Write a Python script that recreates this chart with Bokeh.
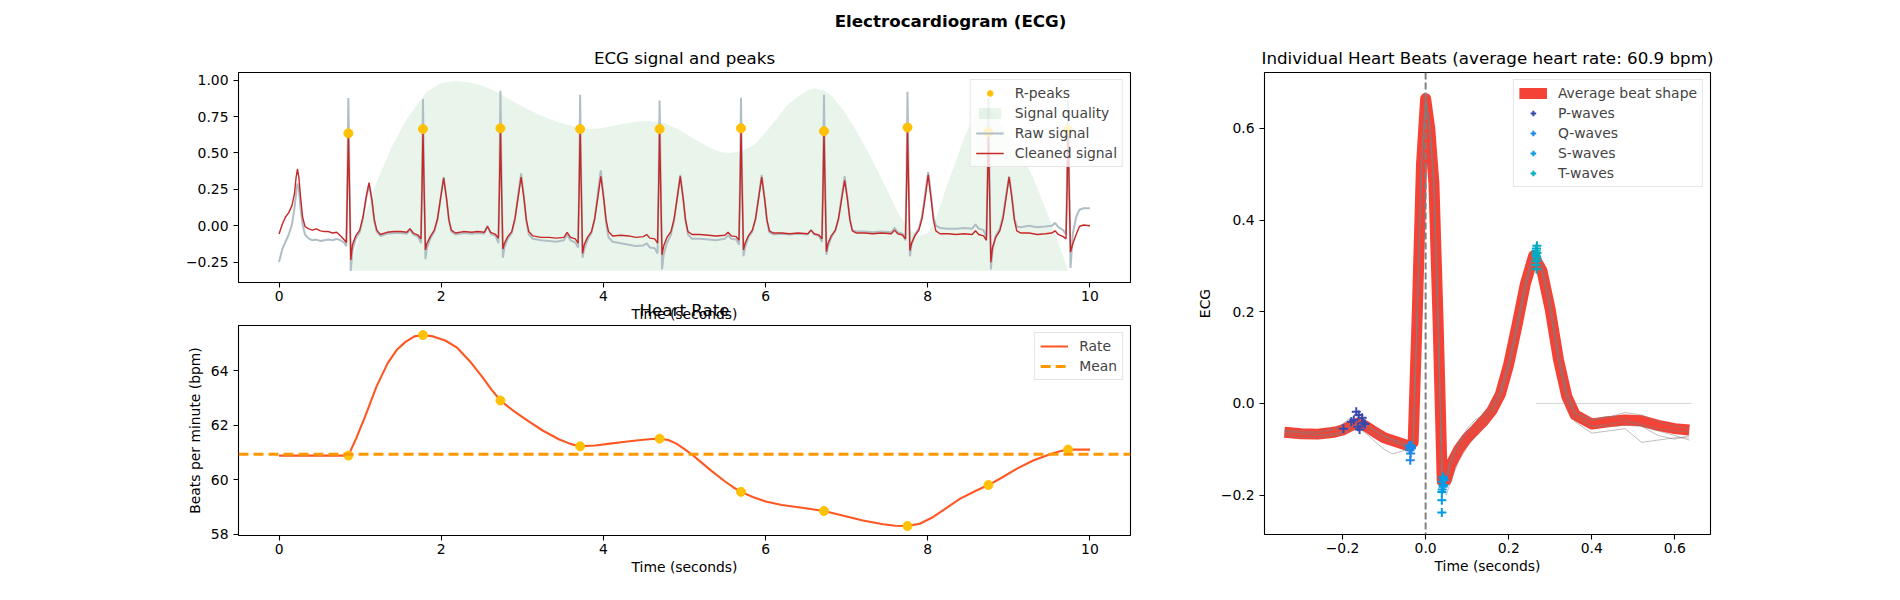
from bokeh.plotting import figure
from bokeh.layouts import row, column
from bokeh.models import (ColumnDataSource, Legend, LegendItem, Span, LinearAxis,
                          Range1d, FixedTicker, CustomJSTickFormatter)
from bokeh.embed import file_html
from bokeh.resources import INLINE

FONT = "DejaVu Sans"

# ---- ECG signal (10 s) ----
ecg_time = [
    0.00, 0.04, 0.08, 0.12, 0.16, 0.19, 0.21, 0.227, 0.245, 0.265, 0.29, 0.32, 0.36, 0.41, 0.46, 0.51, 0.56, 0.61, 0.66, 0.71, 0.76, 0.80,
    0.83, 0.843, 0.855, 0.867, 0.885, 0.905, 0.945, 0.995, 1.035, 1.075, 1.11, 1.145, 1.175, 1.205, 1.25, 1.33, 1.42, 1.50,
    1.575, 1.615, 1.655, 1.715, 1.75, 1.763, 1.775, 1.787, 1.805, 1.825, 1.865, 1.915, 1.955, 1.995, 2.03, 2.065, 2.095, 2.125, 2.175, 2.275, 2.375, 2.45,
    2.53, 2.57, 2.61, 2.67, 2.705, 2.718, 2.73, 2.742, 2.76, 2.78, 2.82, 2.87, 2.91, 2.95, 2.985, 3.02, 3.05, 3.08, 3.13, 3.23, 3.33, 3.42,
    3.513, 3.553, 3.593, 3.653, 3.688, 3.701, 3.713, 3.725, 3.743, 3.763, 3.803, 3.853, 3.893, 3.933, 3.968, 4.003, 4.033, 4.063, 4.113, 4.213, 4.313, 4.40,
    4.493, 4.533, 4.573, 4.633, 4.668, 4.681, 4.693, 4.705, 4.723, 4.743, 4.783, 4.833, 4.873, 4.913, 4.948, 4.983, 5.013, 5.043, 5.093, 5.193, 5.293, 5.39,
    5.497, 5.537, 5.577, 5.637, 5.672, 5.685, 5.697, 5.709, 5.727, 5.747, 5.787, 5.837, 5.877, 5.917, 5.952, 5.987, 6.017, 6.047, 6.097, 6.197, 6.297, 6.40,
    6.52, 6.56, 6.60, 6.66, 6.695, 6.708, 6.72, 6.732, 6.75, 6.77, 6.81, 6.86, 6.90, 6.94, 6.975, 7.01, 7.04, 7.07, 7.12, 7.22, 7.32, 7.43,
    7.55, 7.59, 7.63, 7.69, 7.725, 7.738, 7.75, 7.762, 7.78, 7.80, 7.84, 7.89, 7.93, 7.97, 8.005, 8.04, 8.07, 8.10, 8.15, 8.25, 8.35, 8.45,
    8.548, 8.588, 8.628, 8.688, 8.723, 8.736, 8.748, 8.76, 8.778, 8.798, 8.838, 8.888, 8.928, 8.968, 9.003, 9.038, 9.068, 9.098, 9.148, 9.25, 9.35, 9.45,
    9.53, 9.57, 9.61, 9.67, 9.705, 9.718, 9.73, 9.742, 9.76, 9.79, 9.83, 9.87, 9.92, 10.0,
]
ecg_clean = [
    -0.057, 0.01, 0.06, 0.09, 0.14, 0.22, 0.33, 0.39, 0.33, 0.20, 0.06, -0.005, -0.02, -0.03, -0.022, -0.035, -0.04, -0.04, -0.05, -0.045, -0.07, -0.095,
    -0.115, 0.25, 0.635, 0.30, -0.235, -0.13, -0.07, -0.03, 0.06, 0.20, 0.296, 0.18, 0.04, -0.03, -0.06, -0.045, -0.04, -0.04,
    -0.045, -0.02, -0.05, -0.065, -0.09, 0.25, 0.665, 0.30, -0.166, -0.12, -0.075, -0.03, 0.05, 0.20, 0.328, 0.19, 0.04, -0.03, -0.05, -0.04, -0.045, -0.04,
    -0.045, -0.005, -0.045, -0.06, -0.085, 0.25, 0.67, 0.30, -0.16, -0.12, -0.075, -0.04, 0.05, 0.20, 0.335, 0.19, 0.04, -0.04, -0.07, -0.08, -0.08, -0.085,
    -0.08, -0.045, -0.08, -0.09, -0.12, 0.25, 0.665, 0.30, -0.19, -0.13, -0.08, -0.04, 0.05, 0.20, 0.34, 0.19, 0.04, -0.04, -0.07, -0.065, -0.07, -0.08,
    -0.075, -0.06, -0.085, -0.09, -0.12, 0.25, 0.665, 0.30, -0.20, -0.14, -0.08, -0.04, 0.05, 0.20, 0.34, 0.19, 0.04, -0.04, -0.06, -0.06, -0.065, -0.07,
    -0.065, -0.045, -0.07, -0.075, -0.10, 0.25, 0.67, 0.30, -0.166, -0.12, -0.07, -0.03, 0.05, 0.20, 0.335, 0.19, 0.04, -0.035, -0.05, -0.05, -0.055, -0.05,
    -0.055, -0.03, -0.055, -0.065, -0.09, 0.25, 0.65, 0.30, -0.178, -0.12, -0.07, -0.03, 0.05, 0.19, 0.312, 0.18, 0.04, -0.035, -0.05, -0.05, -0.055, -0.05,
    -0.055, -0.03, -0.055, -0.065, -0.09, 0.25, 0.675, 0.30, -0.17, -0.12, -0.07, -0.03, 0.05, 0.20, 0.35, 0.19, 0.04, -0.035, -0.055, -0.055, -0.06, -0.055,
    -0.06, -0.035, -0.06, -0.07, -0.10, 0.25, 0.645, 0.30, -0.25, -0.15, -0.08, -0.035, 0.05, 0.20, 0.335, 0.19, 0.04, -0.035, -0.05, -0.05, -0.06, -0.055,
    -0.05, -0.035, -0.06, -0.075, -0.09, 0.25, 0.66, 0.30, -0.18, -0.12, -0.06, -0.005, 0.005, 0.0,
]
ecg_raw = [
    -0.25, -0.16, -0.11, -0.06, 0.01, 0.12, 0.22, 0.29, 0.25, 0.12, 0.01, -0.06, -0.085, -0.10, -0.095, -0.105, -0.10, -0.095, -0.10, -0.09, -0.10, -0.115,
    -0.14, 0.35, 0.877, 0.40, -0.31, -0.17, -0.09, -0.045, 0.05, 0.19, 0.28, 0.17, 0.03, -0.04, -0.07, -0.055, -0.05, -0.05,
    -0.055, -0.03, -0.06, -0.075, -0.12, 0.33, 0.87, 0.40, -0.23, -0.15, -0.09, -0.04, 0.045, 0.20, 0.335, 0.19, 0.035, -0.04, -0.06, -0.05, -0.055, -0.05,
    -0.055, 0.0, -0.055, -0.07, -0.12, 0.35, 0.927, 0.42, -0.22, -0.15, -0.09, -0.05, 0.05, 0.22, 0.36, 0.20, 0.03, -0.06, -0.09, -0.10, -0.105, -0.11,
    -0.10, -0.06, -0.10, -0.115, -0.15, 0.33, 0.90, 0.40, -0.22, -0.16, -0.10, -0.05, 0.05, 0.23, 0.38, 0.20, 0.02, -0.08, -0.11, -0.12, -0.13, -0.14,
    -0.135, -0.12, -0.15, -0.155, -0.19, 0.30, 0.86, 0.38, -0.30, -0.20, -0.12, -0.06, 0.04, 0.21, 0.35, 0.19, 0.03, -0.06, -0.09, -0.09, -0.095, -0.10,
    -0.09, -0.065, -0.09, -0.095, -0.13, 0.33, 0.88, 0.40, -0.21, -0.15, -0.08, -0.04, 0.05, 0.21, 0.35, 0.19, 0.03, -0.045, -0.06, -0.055, -0.06, -0.055,
    -0.06, -0.03, -0.06, -0.07, -0.11, 0.33, 0.90, 0.40, -0.20, -0.14, -0.08, -0.035, 0.05, 0.21, 0.34, 0.19, 0.04, -0.03, -0.04, -0.04, -0.045, -0.04,
    -0.045, -0.015, -0.045, -0.055, -0.10, 0.33, 0.92, 0.42, -0.21, -0.13, -0.06, -0.02, 0.07, 0.23, 0.37, 0.21, 0.06, 0.0, -0.015, -0.02, -0.02, -0.015,
    -0.02, 0.01, -0.02, -0.03, -0.08, 0.33, 0.88, 0.40, -0.30, -0.17, -0.07, -0.02, 0.07, 0.22, 0.34, 0.20, 0.05, -0.005, -0.01, 0.0, -0.01, -0.005,
    0.0, 0.02, -0.01, -0.03, -0.06, 0.33, 0.86, 0.40, -0.29, -0.05, 0.06, 0.11, 0.12, 0.12,
]

# R-peaks
rpeak_time = [0.855, 1.775, 2.73, 3.713, 4.693, 5.697, 6.72, 7.75, 8.748, 9.73]
rpeak_value = [0.635, 0.665, 0.67, 0.665, 0.665, 0.67, 0.65, 0.675, 0.645, 0.66]

# signal quality band
quality_floor = -0.31
quality_time = [0.855, 0.95, 1.05, 1.19, 1.38, 1.57, 1.82, 2.0, 2.17, 2.35, 2.52, 2.68, 2.84, 3.03, 3.22, 3.45, 3.66,
                3.85, 3.97, 4.2, 4.4, 4.54, 4.73, 4.9, 5.11, 5.3, 5.45, 5.56, 5.7, 5.87, 6.0, 6.13, 6.25, 6.38, 6.5,
                6.6, 6.72, 6.82, 6.95, 7.08, 7.25, 7.39, 7.52, 7.65, 7.78, 7.9, 8.0, 8.1, 8.22, 8.35, 8.46, 8.58,
                8.7, 8.8, 8.95, 9.09, 9.3, 9.5, 9.62, 9.73]
quality_level = [-0.31, -0.15, 0.05, 0.28, 0.53, 0.73, 0.92, 0.98, 0.995, 0.985, 0.96, 0.92, 0.87, 0.81, 0.76, 0.71, 0.68,
                 0.665, 0.67, 0.695, 0.715, 0.72, 0.71, 0.67, 0.60, 0.54, 0.505, 0.50, 0.51, 0.56, 0.64, 0.73, 0.82, 0.88, 0.925,
                 0.945, 0.93, 0.89, 0.80, 0.69, 0.52, 0.37, 0.22, 0.07, -0.03, -0.07, -0.05, 0.05, 0.25, 0.45, 0.62, 0.75,
                 0.81, 0.78, 0.66, 0.56, 0.33, 0.05, -0.13, -0.31]

# ---- heart rate ----
rate_at_peaks = [60.88, 65.3, 62.9, 61.22, 61.5, 59.55, 58.85, 58.3, 59.8, 61.1]
rate_time = [0.0, 0.855, 0.95, 1.06, 1.2, 1.34, 1.45, 1.56, 1.67, 1.775, 1.9, 2.05, 2.19, 2.35, 2.51, 2.62, 2.73,
             2.9, 3.07, 3.25, 3.45, 3.6, 3.713, 3.9, 4.08, 4.27, 4.46, 4.6, 4.693, 4.8, 4.9, 5.0, 5.09, 5.2, 5.34,
             5.5, 5.6, 5.697, 5.85, 6.0, 6.2, 6.45, 6.72, 6.95, 7.2, 7.45, 7.6, 7.75, 7.9, 8.05, 8.2, 8.4, 8.6,
             8.748, 8.9, 9.1, 9.3, 9.5, 9.63, 9.73, 10.0]
rate_curve = [60.88, 60.88, 61.5, 62.3, 63.4, 64.27, 64.75, 65.05, 65.25, 65.3, 65.25, 65.1, 64.85, 64.35, 63.75, 63.3, 62.9,
              62.5, 62.15, 61.8, 61.48, 61.3, 61.22, 61.25, 61.32, 61.39, 61.45, 61.49, 61.5, 61.45, 61.32, 61.12, 60.92, 60.65, 60.3,
              59.93, 59.72, 59.55, 59.35, 59.2, 59.07, 58.97, 58.85, 58.68, 58.5, 58.36, 58.31, 58.3, 58.38, 58.6, 58.9, 59.3, 59.6,
              59.8, 60.05, 60.4, 60.7, 60.92, 61.04, 61.1, 61.1]
mean_rate = 60.93

# ---- individual heart beats ----
beat_time = [-0.34, -0.30, -0.26, -0.22, -0.20, -0.18, -0.16, -0.14, -0.12, -0.10, -0.08, -0.06, -0.04, -0.03, -0.02,
             -0.01, 0.0, 0.01, 0.02, 0.03, 0.04, 0.05, 0.06, 0.08, 0.10, 0.12, 0.14, 0.16, 0.18, 0.20, 0.22, 0.24,
             0.26, 0.28, 0.30, 0.32, 0.34, 0.36, 0.40, 0.44, 0.48, 0.52, 0.56, 0.60, 0.635]
beat_average = [-0.063, -0.066, -0.067, -0.063, -0.058, -0.049, -0.042, -0.052, -0.064, -0.075, -0.081, -0.087, -0.093, -0.085, 0.20,
                0.52, 0.665, 0.60, 0.48, 0.18, -0.17, -0.168, -0.135, -0.100, -0.075, -0.057, -0.038, -0.015, 0.02, 0.085, 0.17, 0.26,
                0.322, 0.29, 0.205, 0.095, 0.015, -0.025, -0.045, -0.04, -0.036, -0.038, -0.048, -0.055, -0.058]
beat_1 = [-0.058, -0.06, -0.062, -0.058, -0.052, -0.04, -0.03, -0.045, -0.058, -0.07, -0.078, -0.083, -0.09, -0.082, 0.21,
          0.53, 0.668, 0.61, 0.49, 0.19, -0.16, -0.16, -0.125, -0.09, -0.062, -0.04, -0.02, 0.0, 0.03, 0.095, 0.18, 0.27,
          0.33, 0.295, 0.21, 0.10, 0.02, -0.02, -0.038, -0.03, -0.02, -0.025, -0.04, -0.05, -0.055]
beat_2 = [-0.07, -0.074, -0.075, -0.07, -0.066, -0.058, -0.055, -0.068, -0.085, -0.10, -0.11, -0.105, -0.1, -0.092, 0.19,
          0.51, 0.66, 0.59, 0.47, 0.17, -0.19, -0.2, -0.17, -0.125, -0.095, -0.072, -0.05, -0.025, 0.01, 0.07, 0.155, 0.245,
          0.31, 0.285, 0.2, 0.09, 0.005, -0.04, -0.065, -0.06, -0.055, -0.085, -0.08, -0.075, -0.075]
beat_3 = [-0.062, -0.064, -0.068, -0.066, -0.06, -0.05, -0.045, -0.05, -0.062, -0.072, -0.08, -0.09, -0.095, -0.088, 0.2,
          0.52, 0.665, 0.6, 0.48, 0.18, -0.175, -0.17, -0.14, -0.105, -0.078, -0.06, -0.04, -0.018, 0.018, 0.083, 0.168, 0.258,
          0.325, 0.292, 0.205, 0.092, 0.012, -0.03, -0.05, -0.045, -0.04, -0.045, -0.055, -0.06, -0.062]
beat_4 = [-0.06, -0.063, -0.064, -0.055, -0.045, -0.03, -0.04, -0.058, -0.07, -0.08, -0.085, -0.09, -0.094, -0.086, 0.2,
          0.51, 0.662, 0.6, 0.47, 0.18, -0.17, -0.168, -0.13, -0.085, -0.055, -0.035, -0.025, -0.01, 0.025, 0.088, 0.172, 0.262,
          0.324, 0.292, 0.21, 0.1, 0.02, -0.02, -0.035, -0.028, -0.035, -0.05, -0.07, -0.078, -0.07]
beat_5 = [-0.066, -0.068, -0.07, -0.068, -0.062, -0.052, -0.046, -0.05, -0.06, -0.072, -0.079, -0.086, -0.092, -0.084, 0.21,
          0.53, 0.67, 0.61, 0.49, 0.19, -0.165, -0.16, -0.12, -0.085, -0.065, -0.05, -0.032, -0.008, 0.025, 0.08, 0.16, 0.25,
          0.33, 0.31, 0.23, 0.12, 0.03, -0.02, -0.05, -0.05, -0.048, -0.05, -0.06, -0.07, -0.08]
flat_beat_time = [0.266, 0.64]
flat_beat_value = [0.0, 0.0]

p_wave_time = [-0.198, -0.167, -0.173, -0.161, -0.153, -0.146, -0.159, -0.163, -0.151, -0.179]
p_wave_value = [-0.055, -0.018, -0.036, -0.025, -0.031, -0.045, -0.057, -0.051, -0.042, -0.040]
q_wave_time = [-0.037, -0.034, -0.038, -0.036, -0.037, -0.040, -0.034, -0.038, -0.035, -0.038]
q_wave_value = [-0.093, -0.098, -0.102, -0.109, -0.124, -0.092, -0.095, -0.096, -0.092, -0.100]
s_wave_time = [0.042, 0.039, 0.043, 0.039, 0.039, 0.039, 0.045, 0.042, 0.040, 0.043]
s_wave_value = [-0.160, -0.171, -0.178, -0.193, -0.211, -0.238, -0.167, -0.182, -0.188, -0.164]
t_wave_time = [0.268, 0.267, 0.266, 0.268, 0.265, 0.267, 0.268, 0.267, 0.266, 0.267]
t_wave_value = [0.344, 0.338, 0.333, 0.328, 0.325, 0.321, 0.316, 0.311, 0.302, 0.293]

# axis ranges and ticks
time_range = (-0.5, 10.5)
time_ticks = [0, 2, 4, 6, 8, 10]
time_labels = ["0", "2", "4", "6", "8", "10"]
ecg_ticks = [-0.25, 0.0, 0.25, 0.5, 0.75, 1.0]
ecg_labels = ["\u22120.25", "0.00", "0.25", "0.50", "0.75", "1.00"]
rate_ticks = [58, 60, 62, 64]
rate_labels = ["58", "60", "62", "64"]
beat_x_ticks = [-0.2, 0.0, 0.2, 0.4, 0.6]
beat_x_labels = ["\u22120.2", "0.0", "0.2", "0.4", "0.6"]
beat_y_ticks = [-0.2, 0.0, 0.2, 0.4, 0.6]
beat_y_labels = ["\u22120.2", "0.0", "0.2", "0.4", "0.6"]


def fmt(ticks, labels):
    return CustomJSTickFormatter(args=dict(tick_values=ticks, tick_labels=labels),
                                 code="const i = tick_values.indexOf(tick); return i < 0 ? '' : tick_labels[i];")


def style(p, xt, xl, yt, yl):
    p.outline_line_color = "black"
    p.outline_line_width = 1.1
    p.grid.visible = False
    p.xaxis.ticker = FixedTicker(ticks=xt)
    p.xaxis.formatter = fmt(xt, xl)
    p.yaxis.ticker = FixedTicker(ticks=yt)
    p.yaxis.formatter = fmt(yt, yl)
    for ax in p.axis:
        ax.axis_line_color = None
        ax.major_tick_line_color = "black"
        ax.major_tick_line_width = 1.1
        ax.major_tick_out = 5
        ax.major_tick_in = 0
        ax.minor_tick_line_color = None
        ax.major_label_text_font = FONT
        ax.major_label_text_font_size = "13.9px"
        ax.major_label_text_color = "black"
        ax.axis_label_text_font = FONT
        ax.axis_label_text_font_size = "13.9px"
        ax.axis_label_text_font_style = "normal"
        ax.axis_label_text_color = "black"
    p.xaxis.major_label_standoff = 3
    p.yaxis.major_label_standoff = 5


def set_title(p, text):
    p.title.text = text
    p.title.align = "center"
    p.title.text_font = FONT
    p.title.text_font_size = "16.7px"
    p.title.text_font_style = "normal"
    p.title.text_color = "black"
    p.title.standoff = 9


def make_legend(items):
    leg = Legend(items=items, location="top_right")
    leg.label_text_font = FONT
    leg.label_text_font_size = "13.9px"
    leg.border_line_color = "#cccccc"
    leg.border_line_width = 1
    leg.background_fill_alpha = 0.8
    leg.margin = 7
    leg.padding = 5
    leg.spacing = 4
    leg.glyph_height = 14
    leg.glyph_width = 28
    leg.label_height = 14
    leg.label_standoff = 11
    return leg


# ---- figure title ----
head = figure(width=1880, height=38, min_border_left=20, min_border_right=0, min_border_top=30,
              min_border_bottom=0, x_axis_location=None, y_axis_location=None,
              output_backend="svg", toolbar_location=None)
head.outline_line_color = None
head.grid.visible = False
head.title.text = "Electrocardiogram (ECG)"
head.title.align = "center"
head.title.text_font = FONT
head.title.text_font_size = "16.7px"
head.title.text_font_style = "bold"
head.title.text_color = "black"
head.title.standoff = 0

# ---- top-left: ECG signal and peaks ----
p1 = figure(frame_width=892, frame_height=210, min_border_left=238, min_border_right=40,
            min_border_top=34, min_border_bottom=41,
            x_range=Range1d(*time_range), y_range=Range1d(-0.39, 1.053),
            output_backend="svg", toolbar_location=None)
style(p1, time_ticks, time_labels, ecg_ticks, ecg_labels)
set_title(p1, "ECG signal and peaks")
p1.xaxis.axis_label = "Time (seconds)"
p1.xaxis.axis_label_standoff = 2

# the next panel's title sits over this x label, as in the original layout
hr_title = LinearAxis(ticker=FixedTicker(ticks=[]), axis_label="Heart Rate",
                      axis_label_standoff=-25, axis_line_color=None,
                      major_tick_out=0, major_tick_in=0, major_label_standoff=0,
                      axis_label_text_font=FONT, axis_label_text_font_size="16.7px",
                      axis_label_text_font_style="normal", axis_label_text_color="black")
p1.add_layout(hr_title, "below")

sig = ColumnDataSource(data=dict(t=ecg_time, clean=ecg_clean, raw=ecg_raw))
r_quality = p1.varea(x=quality_time, y1=quality_floor, y2=quality_level, fill_color="#4CAF50", fill_alpha=0.12)
r_raw = p1.line("t", "raw", source=sig, line_color="#B0BEC5", line_width=2.0)
r_clean = p1.line("t", "clean", source=sig, line_color="#C62828", line_width=1.4)
r_peaks = p1.scatter(rpeak_time, rpeak_value, size=9, fill_color="#FFC107", line_color="#FFC107")
p1.add_layout(make_legend([
    LegendItem(label="R-peaks", renderers=[r_peaks]),
    LegendItem(label="Signal quality", renderers=[r_quality]),
    LegendItem(label="Raw signal", renderers=[r_raw]),
    LegendItem(label="Cleaned signal", renderers=[r_clean]),
]))

# ---- bottom-left: heart rate ----
p2 = figure(frame_width=892, frame_height=210, min_border_left=238, min_border_right=40,
            min_border_top=1, min_border_bottom=50,
            x_range=Range1d(*time_range), y_range=Range1d(57.95, 65.65),
            output_backend="svg", toolbar_location=None)
style(p2, time_ticks, time_labels, rate_ticks, rate_labels)
p2.xaxis.axis_label = "Time (seconds)"
p2.yaxis.axis_label = "Beats per minute (bpm)"
p2.xaxis.axis_label_standoff = 2
p2.yaxis.axis_label_standoff = 5

r_rate = p2.line(rate_time, rate_curve, line_color="#FF5722", line_width=2.1)
p2.scatter(rpeak_time, rate_at_peaks, size=9, fill_color="#FFC107", line_color="#FFC107")
r_mean = p2.line(list(time_range), [mean_rate, mean_rate], line_color="#FF9800", line_width=2.8,
                 line_dash="10 5")
p2.add_layout(make_legend([
    LegendItem(label="Rate", renderers=[r_rate]),
    LegendItem(label="Mean", renderers=[r_mean]),
]))

# ---- right: individual heart beats ----
p3 = figure(frame_width=446, frame_height=462, min_border_left=94, min_border_right=180,
            min_border_top=34, min_border_bottom=50,
            x_range=Range1d(-0.388, 0.686), y_range=Range1d(-0.286, 0.722),
            output_backend="svg", toolbar_location=None)
style(p3, beat_x_ticks, beat_x_labels, beat_y_ticks, beat_y_labels)
set_title(p3, "Individual Heart Beats (average heart rate: %.1f bpm)" % mean_rate)
p3.xaxis.axis_label = "Time (seconds)"
p3.yaxis.axis_label = "ECG"
p3.xaxis.axis_label_standoff = 2
p3.yaxis.axis_label_standoff = 5

r_avg = p3.line(beat_time, beat_average, line_color="#F44336", line_width=11, line_join="round")
p3.multi_line(xs=[beat_time] * 5, ys=[beat_1, beat_2, beat_3, beat_4, beat_5],
              line_color="grey", line_alpha=0.5, line_width=1)
p3.line(flat_beat_time, flat_beat_value, line_color="grey", line_alpha=0.35, line_width=1)
p3.add_layout(Span(location=0, dimension="height", line_color="grey", line_width=2, line_dash="7 3"))
r_p = p3.scatter(p_wave_time, p_wave_value, marker="cross", size=9, line_color="#3949AB", line_width=2)
r_q = p3.scatter(q_wave_time, q_wave_value, marker="cross", size=9, line_color="#1E88E5", line_width=2)
r_s = p3.scatter(s_wave_time, s_wave_value, marker="cross", size=9, line_color="#039BE5", line_width=2)
r_t = p3.scatter(t_wave_time, t_wave_value, marker="cross", size=9, line_color="#00ACC1", line_width=2)
p3.add_layout(make_legend([
    LegendItem(label="Average beat shape", renderers=[r_avg]),
    LegendItem(label="P-waves", renderers=[r_p]),
    LegendItem(label="Q-waves", renderers=[r_q]),
    LegendItem(label="S-waves", renderers=[r_s]),
    LegendItem(label="T-waves", renderers=[r_t]),
]))

layout = column(head, row(column(p1, p2), p3))
open("out.html", "w").write(file_html(layout, INLINE))
